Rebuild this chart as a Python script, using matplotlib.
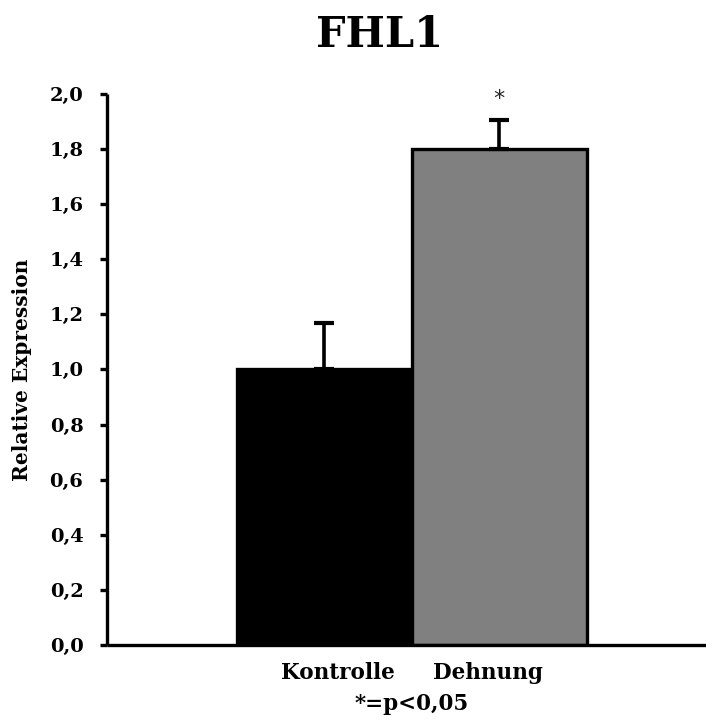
import matplotlib
matplotlib.use("Agg")
import matplotlib.pyplot as plt
from matplotlib.ticker import FixedLocator
from matplotlib.transforms import ScaledTranslation

categories = ["Kontrolle", "Dehnung"]
values = [1.0, 1.8]
errors_up = [0.17, 0.105]
bar_colors = ["#000000", "#808080"]
y_ticks = [0.0, 0.2, 0.4, 0.6, 0.8, 1.0, 1.2, 1.4, 1.6, 1.8, 2.0]
y_tick_labels = [f"{v:.1f}".replace(".", ",") for v in y_ticks]
title = "FHL1"
y_label = "Relative Expression"
note = "*=p<0,05"
significant = [False, True]

serif = ["DejaVu Serif"]
DPI = 100

fig = plt.figure(figsize=(7.06, 7.2), dpi=DPI)
ax = fig.add_axes([0.1516, 0.1042, 0.8484, 0.7653])

x = [0, 1]
ax.bar(x, values, width=1.0, color=bar_colors, edgecolor="black", linewidth=2.4, zorder=2)
ax.errorbar(x, values, yerr=[[0, 0], errors_up], fmt="none", ecolor="black",
            elinewidth=2.6, capsize=7.5, capthick=3, zorder=3)

for xi, v, e, s in zip(x, values, errors_up, significant):
    if s:
        ax.text(xi, v + e + 0.075, "*", ha="center", va="center", fontsize=16,
                family=["DejaVu Sans"], color="#222222")

ax.set_xlim(-1.243, 2.183)
ax.set_ylim(0, 2.0)
ax.yaxis.set_major_locator(FixedLocator(y_ticks))
ax.set_yticklabels(y_tick_labels, family=serif, fontweight="bold", fontsize=14)
ax.set_xticks(x)
ax.set_xticklabels(categories, family=serif, fontweight="bold", fontsize=15.5)
ax.tick_params(axis="x", length=0, pad=12)
ax.tick_params(axis="y", length=5, width=2.4, direction="out", pad=12)

# category labels sit slightly toward the centre, between the two bars
label_shift_px = [14, -11]
for lbl, dx in zip(ax.get_xticklabels(), label_shift_px):
    lbl.set_transform(lbl.get_transform() + ScaledTranslation(dx / DPI, 0, fig.dpi_scale_trans))

for side in ["top", "right"]:
    ax.spines[side].set_visible(False)
for side in ["left", "bottom"]:
    ax.spines[side].set_linewidth(2.4)
    ax.spines[side].set_capstyle("butt")

ax.set_ylabel(y_label, family=serif, fontweight="bold", fontsize=14.5)
ax.yaxis.set_label_coords(-0.126, 0.5)
ax.set_xlabel(note, family=serif, fontweight="bold", fontsize=15.5, labelpad=2)
ax.xaxis.set_label_coords((0.5 + 1.243) / 3.426, -0.088)

fig.text(0.538, 0.952, title, ha="center", va="center", family=serif,
         fontweight="bold", fontsize=30)

fig.savefig("out.png", dpi=DPI, facecolor="white")
